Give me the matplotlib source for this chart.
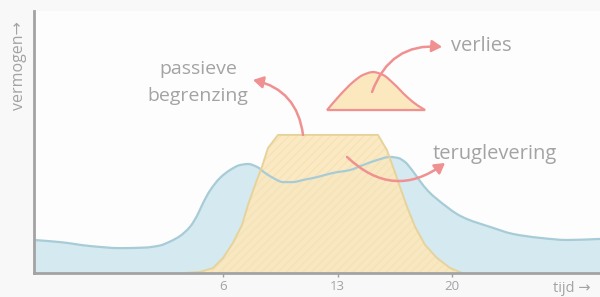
import matplotlib
matplotlib.use("Agg")
import numpy as np
import matplotlib.pyplot as plt
from matplotlib.patches import FancyArrowPatch, PathPatch
from matplotlib.path import Path

# ---- data ----
verbruik_x = [-5.55, -3.96, -2.13, -0.30, 1.23, 2.15, 2.76, 3.37, 3.98, 4.41, 4.78, 5.21,
              5.82, 6.43, 7.04, 7.53, 8.08, 8.57, 9.06, 9.67, 10.28, 10.89, 11.75, 12.72,
              13.76, 14.56, 15.41, 16.21, 16.70, 17.12, 17.55, 18.04, 18.53, 19.08, 19.69,
              20.30, 20.91, 22.32, 23.73, 25.38, 27.03, 29.04]
verbruik_y = [12.6, 11.8, 10.3, 9.5, 9.7, 10.5, 12.0, 14.1, 17.6, 21.8, 26.7, 31.5,
              36.3, 39.3, 41.2, 41.6, 40.5, 38.2, 36.3, 34.7, 34.7, 35.5, 36.6, 38.2,
              39.3, 41.2, 43.1, 44.3, 43.9, 42.4, 39.3, 35.1, 31.3, 28.2, 25.2,
              22.5, 20.6, 17.6, 14.9, 13.4, 12.6, 13.0]

opwek_x = [3.68, 4.59, 5.39, 6.00, 6.61, 7.16, 7.53, 7.96, 8.38, 8.75, 9.36,
           15.47, 16.02, 16.39, 16.82, 17.25, 17.74, 18.35, 19.08, 19.88, 20.61]
opwek_y = [0.0, 0.4, 1.9, 5.7, 11.5, 18.3, 26.0, 33.6, 40.5, 47.7, 52.7,
           52.7, 46.9, 40.5, 32.8, 25.2, 17.6, 10.7, 5.7, 1.9, 0.0]

verlies_x = [12.36, 13.15, 13.95, 14.56, 15.17, 15.78, 16.39, 17.25, 17.86, 18.35]
verlies_y = [62.2, 67.9, 72.9, 75.6, 76.7, 75.6, 72.5, 67.2, 64.1, 62.2]

tick_pos = [6, 13, 20]
tick_labels = ["6", "13", "20"]


def smooth_verts(x, y):
    """Monotone cubic (Bezier) path through the given points."""
    x = np.asarray(x, float)
    y = np.asarray(y, float)
    h = np.diff(x)
    d = np.diff(y) / h
    n = len(x)
    m = np.zeros(n)
    m[0], m[-1] = d[0], d[-1]
    for i in range(1, n - 1):
        if d[i - 1] * d[i] <= 0:
            m[i] = 0.0
        else:
            w1 = 2 * h[i] + h[i - 1]
            w2 = h[i] + 2 * h[i - 1]
            m[i] = (w1 + w2) / (w1 / d[i - 1] + w2 / d[i])
    verts = [(x[0], y[0])]
    codes = [Path.MOVETO]
    for i in range(n - 1):
        verts += [(x[i] + h[i] / 3, y[i] + m[i] * h[i] / 3),
                  (x[i + 1] - h[i] / 3, y[i + 1] - m[i + 1] * h[i] / 3),
                  (x[i + 1], y[i + 1])]
        codes += [Path.CURVE4] * 3
    return verts, codes


# ---- styling ----
plt.rcParams['font.family'] = ['Open Sans', 'DejaVu Sans']
txt_col = "#a3a3a3"
blue_fill = "#d5e9f0"
blue_line = "#a7ccd7"
yel_fill = "#fbe8be"
yel_edge = "#e6d39c"
red = "#f09090"

fig = plt.figure(figsize=(6.0, 2.97), dpi=100, facecolor="#f8f8f8")
ax = fig.add_axes([34/600, 24/297, 566/600, 262/297])
ax.set_facecolor("#fdfdfd")

# blue (verbruik) area + line
bv, bc = smooth_verts(verbruik_x, verbruik_y)
fill_v = bv + [(verbruik_x[-1], 0), (verbruik_x[0], 0), (verbruik_x[0], verbruik_y[0])]
fill_c = bc + [Path.LINETO, Path.LINETO, Path.CLOSEPOLY]
ax.add_patch(PathPatch(Path(fill_v, fill_c), facecolor=blue_fill, lw=0, zorder=1))

# yellow (opwek) area
ax.fill_between(opwek_x, 0, opwek_y, color=yel_fill, alpha=0.92, lw=0, zorder=2,
                hatch="////", edgecolor="#f6e2b4")
ax.add_patch(PathPatch(Path(bv, bc), facecolor="none", edgecolor=blue_line, lw=1.6,
                       zorder=3))
ax.plot(opwek_x, opwek_y, color=yel_edge, lw=1.4, zorder=4)

# verlies hump
hv, hc = smooth_verts(verlies_x, verlies_y)
hv = hv + [(verlies_x[0], verlies_y[0])]
hc = hc + [Path.CLOSEPOLY]
ax.add_patch(PathPatch(Path(hv, hc), facecolor=yel_fill, edgecolor=red, lw=1.6,
                       zorder=4))

ax.set_xlim(-5.55, 29.04)
ax.set_ylim(0, 100)

for s in ["top", "right"]:
    ax.spines[s].set_visible(False)
for s in ["left", "bottom"]:
    ax.spines[s].set_color("#a3a3a3")
    ax.spines[s].set_linewidth(2.0)
    ax.spines[s].set_zorder(6)

ax.set_xticks(tick_pos)
ax.set_xticklabels(tick_labels)
ax.tick_params(axis="x", direction="inout", length=6, width=1, color="#a0a0a0",
               labelcolor=txt_col, labelsize=9.5, pad=2)
ax.set_yticks([])

# axis labels
fig.text(572/600, 1 - 288/297, "tijd \u2192", color=txt_col, fontsize=10.5,
         ha="center", va="center")
fig.text(19/600, 1 - 66/297, "vermogen\u2192", color=txt_col, fontsize=11.5,
         ha="center", va="center", rotation=90)

# annotations
ax.text(4.47, 78.0, "passieve", color=txt_col, fontsize=14, ha="center", va="center")
ax.text(4.47, 67.5, "begrenzing", color=txt_col, fontsize=14, ha="center", va="center")
ax.text(19.95, 86.5, "verlies", color=txt_col, fontsize=14.5, ha="left", va="center")
ax.text(18.84, 45.5, "teruglevering", color=txt_col, fontsize=14.5, ha="left", va="center")


def arrow(p0, p1, rad):
    a = FancyArrowPatch(p0, p1, connectionstyle=f"arc3,rad={rad}",
                        arrowstyle="-|>,head_length=6,head_width=3.5",
                        color=red, lw=1.8, zorder=7, shrinkA=0, shrinkB=0)
    ax.add_patch(a)


arrow((10.89, 52.7), (7.83, 73.7), 0.35)
arrow((15.11, 69.1), (19.39, 86.3), -0.38)
arrow((13.58, 44.3), (19.57, 42.0), 0.42)

fig.savefig("out.png", dpi=100, facecolor=fig.get_facecolor())
